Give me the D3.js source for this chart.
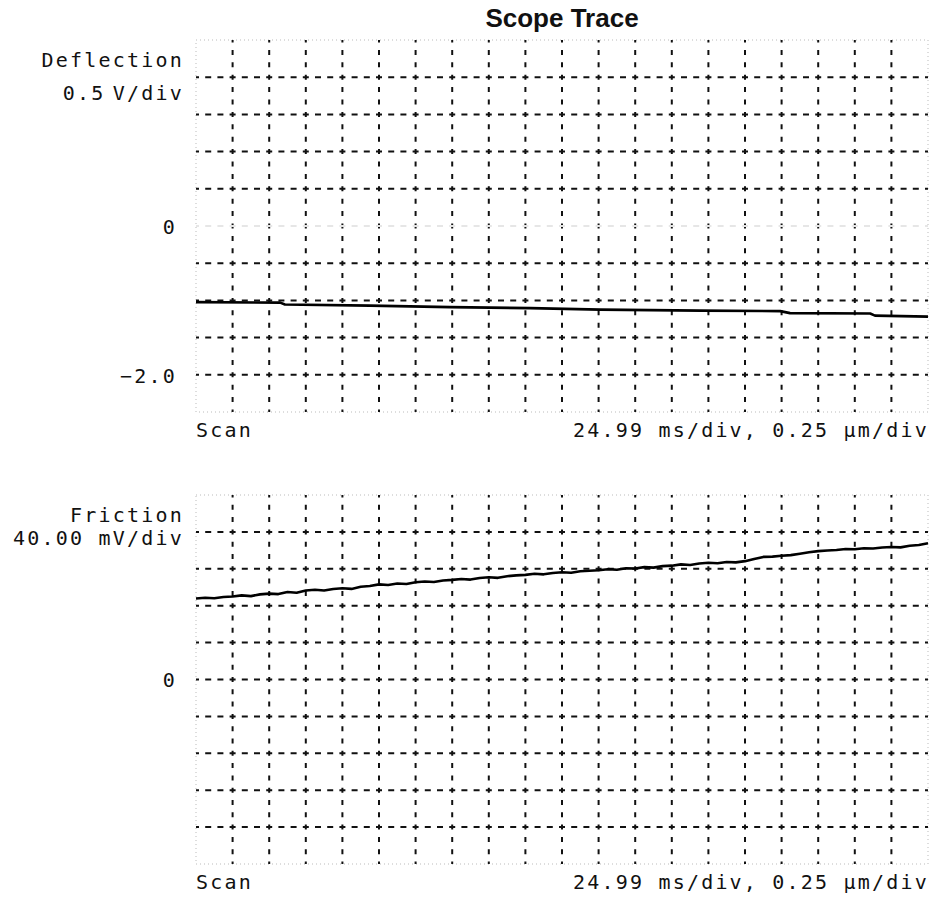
<!DOCTYPE html>
<html>
<head>
<meta charset="utf-8">
<script src="https://cdn.jsdelivr.net/npm/d3@7"></script>
<style>
  html, body { margin: 0; padding: 0; background: #fff; }
  svg { display: block; }
  .lbl { font-family: "DejaVu Sans Mono", monospace; font-size: 20px; letter-spacing: 2.2px; fill: #111; }
  .title { font-family: "Liberation Sans", Arial, sans-serif; font-weight: bold; font-size: 26px; fill: #111; }
</style>
</head>
<body>
<script>
// ---------- data ----------
const title = "Scope Trace";
const divisionsX = 20;
const msPerDiv = 24.99;
const xScaleLabel = "24.99 ms/div, 0.25 \u00b5m/div";
const xAxisName = "Scan";

const deflName = "Deflection";
const deflUnit = "0.5 V/div";
const deflDomain = [-2.5, 2.5];
const deflGridStep = 0.5;
const deflTicks = [0, -2.0];
const deflTickLabels = ["0", "\u22122.0"];
const deflTimeMs = [0, 57.5, 60.7, 118.7, 173.4, 228.2, 275.9, 344.1, 398.9, 405.6, 460.3, 463.6, 499.8];
const deflVolts  = [-1.023, -1.030, -1.056, -1.070, -1.090, -1.104, -1.124, -1.137, -1.144, -1.171, -1.177, -1.204, -1.218];

const fricName = "Friction";
const fricUnit = "40.00 mV/div";
const fricDomain = [-200, 200];
const fricGridStep = 40;
const fricTicks = [0];
const fricTickLabels = ["0"];
// friction trace, evenly sampled over the full sweep (mV)
const fricMv = [
  87.8, 88.6, 88.1, 89.4, 89.9, 91.2, 90.4, 92.3, 93.1, 92.6,
  94.8, 94.0, 96.5, 97.3, 96.4, 98.1, 98.9, 98.2, 100.6, 101.4,
  103.1, 102.5, 104.0, 103.6, 105.4, 106.3, 105.7, 107.4, 108.0, 108.9,
  108.3, 110.1, 110.8, 110.2, 112.0, 112.9, 113.4, 114.6, 114.0, 115.5,
  116.2, 115.8, 117.3, 117.9, 118.5, 119.6, 119.0, 120.5, 120.4, 121.8,
  121.3, 122.9, 123.4, 124.8, 124.1, 125.7, 126.5, 126.0, 127.4, 127.0,
  128.3, 130.6, 132.9, 133.2, 134.1, 134.8, 136.4, 137.9, 139.2, 139.9,
  140.3, 141.4, 141.2, 142.3, 142.0, 143.1, 143.7, 143.2, 144.9, 145.8,
  147.6
];

// ---------- layout ----------
const W = 934, H = 898;
const L = 196, R = 928;
const svg = d3.select("body").append("svg").attr("width", W).attr("height", H);

const sweepMs = divisionsX * msPerDiv;
const x = d3.scaleLinear().domain([0, sweepMs]).range([L, R]);

svg.append("text").attr("class", "title")
  .attr("x", (L + R) / 2).attr("y", 27).attr("text-anchor", "middle").text(title);

function panel(opts) {
  const y = d3.scaleLinear().domain(opts.domain).range([opts.bottom, opts.top]);
  const g = svg.append("g");
  // faint dotted border
  g.append("rect").attr("x", L).attr("y", opts.top).attr("width", R - L).attr("height", opts.bottom - opts.top)
    .attr("fill", "none").attr("stroke", "#bbb").attr("stroke-width", 1).attr("stroke-dasharray", "1,3");

  const xStep = (R - L) / divisionsX;
  const nY = Math.round((opts.domain[1] - opts.domain[0]) / opts.gridStep);
  const yStep = (opts.bottom - opts.top) / nY;

  // vertical grid lines
  const xs = d3.range(1, divisionsX).map(i => i * msPerDiv);
  g.selectAll(".vg").data(xs).join("line")
    .attr("x1", d => x(d)).attr("x2", d => x(d))
    .attr("y1", opts.top).attr("y2", opts.bottom)
    .attr("stroke", "#111").attr("stroke-width", 2)
    .attr("stroke-dasharray", `5,${(yStep / 3 - 5).toFixed(3)}`)
    .attr("stroke-dashoffset", 2.5);

  // horizontal grid lines
  const ys = d3.range(1, nY).map(i => opts.domain[0] + i * opts.gridStep);
  g.selectAll(".hg").data(ys).join("line")
    .attr("x1", L).attr("x2", R)
    .attr("y1", d => y(d)).attr("y2", d => y(d))
    .attr("stroke", d => (opts.faintZero && Math.abs(d) < 1e-9) ? "#e6e6e6" : "#111")
    .attr("stroke-width", 2)
    .attr("stroke-dasharray", `6,${(xStep / 3 - 6).toFixed(3)}`)
    .attr("stroke-dashoffset", 3);

  // tick labels via axis
  const ax = d3.axisLeft(y).tickValues(opts.ticks).tickSize(0).tickPadding(19)
    .tickFormat((d, i) => opts.tickLabels[i]);
  const axG = g.append("g").attr("transform", `translate(${L},0)`).call(ax);
  axG.select(".domain").remove();
  axG.selectAll("text").attr("class", "lbl").attr("font-family", null).attr("font-size", null)
    .attr("fill", "#111").attr("dy", "0.36em");

  // name + unit
  g.append("text").attr("class", "lbl").attr("x", 184).attr("y", opts.nameY).attr("text-anchor", "end").text(opts.name);
  g.append("text").attr("class", "lbl").attr("x", 184).attr("y", opts.unitY).attr("text-anchor", "end")
    .attr("word-spacing", opts.unitWordSpacing).text(opts.unit);

  // bottom labels
  g.append("text").attr("class", "lbl").attr("x", L).attr("y", opts.bottom + 25).text(xAxisName);
  g.append("text").attr("class", "lbl").attr("x", R + 1).attr("y", opts.bottom + 25).attr("text-anchor", "end")
    .attr("letter-spacing", "2.45px").text(xScaleLabel);

  // trace
  const line = d3.line().x(d => x(d[0])).y(d => y(d[1]));
  g.append("path").datum(opts.trace).attr("d", line)
    .attr("fill", "none").attr("stroke", "#000").attr("stroke-width", 2.6).attr("stroke-linejoin", "round");
}

panel({
  top: 40, bottom: 412, domain: deflDomain, gridStep: deflGridStep,
  ticks: deflTicks, tickLabels: deflTickLabels, name: deflName, unit: deflUnit,
  nameY: 67, unitY: 100, faintZero: true, unitWordSpacing: "-7px",
  trace: deflTimeMs.map((t, i) => [t, deflVolts[i]])
});

panel({
  top: 495, bottom: 864, domain: fricDomain, gridStep: fricGridStep,
  ticks: fricTicks, tickLabels: fricTickLabels, name: fricName, unit: fricUnit,
  nameY: 522, unitY: 545, faintZero: false, unitWordSpacing: "0px",
  trace: fricMv.map((v, i) => [i * sweepMs / (fricMv.length - 1), v])
});
</script>
</body>
</html>
